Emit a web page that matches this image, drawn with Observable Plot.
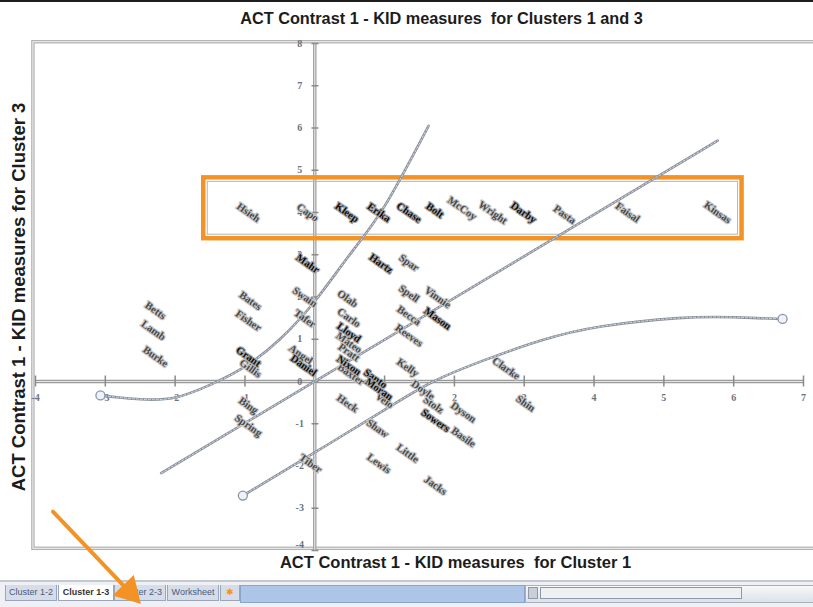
<!DOCTYPE html>
<html>
<head>
<meta charset="utf-8">
<script src="https://cdn.jsdelivr.net/npm/d3@7"></script>
<script src="https://cdn.jsdelivr.net/npm/@observablehq/plot@0.6"></script>
<style>
  body { margin: 0; background: #fff; }
  #wrap { position: relative; width: 813px; height: 607px; overflow: hidden; font-family: Arial, "Liberation Sans", sans-serif; background: #fff; }
  #topline { position: absolute; left: 0; top: 0; width: 813px; height: 2px; background: #1e1e1e; z-index: 3; }
  #tabs { position: absolute; left: 0; top: 580px; width: 813px; height: 27px; background: #eef0f4; border-top: 2px solid #c4c8d0; }
  #tabs .tab { position: absolute; top: 3px; height: 15px; line-height: 15px; font-size: 9px; color: #4a5a7a; text-align: center; background: #d7dde8; border: 1px solid #9aa6bb; border-top: none; }
  #tabs .tab.active { background: #fff; color: #333; font-weight: bold; }
  #tabs .blue { position: absolute; top: 3px; height: 16px; background: #adc6e8; border: 1px solid #8aa4cc; }
  #tabs .scroll { position: absolute; top: 3px; height: 16px; background: linear-gradient(#f7f8fa, #dde1e8); border: 1px solid #a9b0bd; }
  #tabs .thumb { position: absolute; top: 5px; height: 10px; background: #c9ced8; border: 1px solid #9098a6; }
  #chart { position: absolute; left: 0; top: 0; z-index: 2; }
</style>
</head>
<body>
<div id="wrap">
  <div id="topline"></div>
  <div id="tabs"></div>
  <div id="chart"></div>
</div>
<script>
// ---------- data ----------
const titleText = "ACT Contrast 1 - KID measures  for Clusters 1 and 3";
const xTitle = "ACT Contrast 1 - KID measures  for Cluster 1";
const yTitle = "ACT Contrast 1 - KID measures for Cluster 3";

const xTicks = [-4, -3, -2, -1, 1, 2, 3, 4, 5, 6, 7];
const yTicks = [-4, -3, -2, -1, 0, 1, 2, 3, 4, 5, 6, 7, 8];

const labelNames = ["Hsieh","Capo","Kleep","Erika","Chase","Bolt","McCoy","Wright","Darby","Pasta","Faisal","Kinsas",
  "Betts","Lamb","Burke","Bates","Fisher","Grant","Gillis","Bing","Spring",
  "Mahr","Swain","Tafer","Angel","Daniel","Hartz","Spar","Olab","Carlo","Lloyd","Mateo","Pratt","Nixon","Baxter",
  "Spell","Vinnie","Becca","Mason","Reeves","Kelly","Santo","Moran","Velo","Clarke",
  "Heck","Shaw","Little","Lewis","Jacks","Stolz","Dyson","Sowers","Basile","Shin","Tiber","Doyle"];
const labelX = [-0.95,-0.10,0.46,0.92,1.35,1.72,2.11,2.55,2.99,3.58,4.48,5.77,
  -2.28,-2.31,-2.28,-0.92,-0.95,-0.95,-0.92,-0.95,-0.95,
  -0.10,-0.14,-0.14,-0.20,-0.16,0.95,1.35,0.47,0.49,0.49,0.49,0.49,0.49,0.52,
  1.35,1.76,1.35,1.76,1.35,1.33,0.87,0.92,1.00,2.74,
  0.47,0.90,1.33,0.92,1.73,1.70,2.13,1.73,2.13,3.02,-0.06,1.55];
const labelY = [4.0,4.0,4.0,4.0,4.0,4.05,4.1,4.0,4.0,3.95,4.0,4.0,
  1.68,1.21,0.59,1.91,1.44,0.59,0.31,-0.57,-1.04,
  2.79,2.0,1.49,0.64,0.38,2.79,2.81,1.96,1.51,1.16,0.92,0.69,0.38,0.17,
  2.08,1.99,1.56,1.49,1.09,0.33,0.07,-0.18,-0.45,0.31,
  -0.52,-1.11,-1.70,-1.94,-2.46,-0.55,-0.73,-0.92,-1.32,-0.52,-1.94,-0.20];
const labelDark = [0,0,1,1,1,1,0,0,1,0,0,0,
  0,0,0,0,0,1,0,0,0,
  1,0,0,0,1,1,0,0,0,1,0,0,1,0,
  0,0,0,1,0,0,1,1,0,0,
  0,0,0,0,0,0,0,1,0,0,0,0];

// fitted curves
const steepX = [-3.07,-2.5,-2.0,-1.5,-1.0,-0.5,0,0.5,1.0,1.63];
const steepY = [-0.33,-0.42,-0.38,-0.08,0.35,1.0,1.9,3.0,4.15,6.05];
const linearX = [-2.2, 5.77];
const linearY = [-2.17, 5.70];
const lowerX = [-1.03,0,1.0,1.7,2.42,3.24,4.1,5.2,6.0,6.7];
const lowerY = [-2.70,-1.68,-0.67,0.0,0.5,0.97,1.3,1.5,1.52,1.48];

const sheetTabs = ["Cluster 1-2", "Cluster 1-3", "Cluster 2-3", "Worksheet", "\u2731"];
const activeTab = "Cluster 1-3";

// ---------- build tables ----------
const labels = labelNames.map((n, i) => ({name: n, x: labelX[i], y: labelY[i], dark: labelDark[i] === 1}));
const steep = steepX.map((x, i) => ({x, y: steepY[i]}));
const linear = linearX.map((x, i) => ({x, y: linearY[i]}));
const lower = lowerX.map((x, i) => ({x, y: lowerY[i]}));
const endMarkers = [steep[0], lower[0], lower[lower.length - 1]];

// annotation geometry (in data units)
const plotArea = {x1: -4.03, x2: 7.6, y1: -3.96, y2: 8.03};
const highlight = {x1: -1.59, x2: 6.12, y1: 3.38, y2: 4.82};
const arrowPts = [{x: -3.75, y: -3.08}, {x: -2.66, y: -4.97}];
const arrowTip = {x: -2.66, y: -4.97};

const curveStroke = "#8b9099";
const orange = "#f39325";
const titleFont = "Arial, Liberation Sans, sans-serif";
const tickStyle = {fontSize: 10, fontWeight: "bold", fill: "#6b7280", fontFamily: "Liberation Serif, serif"};

const chart = Plot.plot({
  width: 813,
  height: 607,
  marginLeft: 35,
  marginRight: 10,
  marginTop: 43,
  marginBottom: 57,
  x: {domain: [-4, 7], axis: null},
  y: {domain: [-4, 8], axis: null},
  style: {background: "transparent", overflow: "visible"},
  marks: [
    // plot area border (double grey)
    Plot.rect([plotArea], {x1: "x1", x2: "x2", y1: "y1", y2: "y2", fill: "none", stroke: "#b3b3b3", strokeWidth: 3.5}),
    Plot.rect([plotArea], {x1: "x1", x2: "x2", y1: "y1", y2: "y2", fill: "none", stroke: "#f2f2f2", strokeWidth: 1}),
    // axes crossing at origin
    Plot.ruleY([0], {x1: -4, x2: 7, stroke: "#9b9b9b", strokeWidth: 3.5}),
    Plot.ruleY([0], {x1: -4, x2: 7, stroke: "#e6e6e6", strokeWidth: 1}),
    Plot.ruleX([0], {y1: -4, y2: 8, stroke: "#a3a3a3", strokeWidth: 3.5}),
    Plot.ruleX([0], {y1: -4, y2: 8, stroke: "#ececec", strokeWidth: 1}),
    // tick marks
    Plot.ruleX(xTicks, {x: d => d, y1: -0.13, y2: 0.13, stroke: "#8a8a8a", strokeWidth: 1.5}),
    Plot.ruleY(yTicks, {y: d => d, x1: -0.04, x2: 0.06, stroke: "#8a8a8a", strokeWidth: 1.5}),
    // tick labels
    Plot.text(xTicks, {x: d => d, y: 0, dy: 16, text: d => String(d), ...tickStyle}),
    Plot.text(yTicks.filter(d => d > -4), {x: 0, y: d => d, dx: -15, text: d => String(d), ...tickStyle}),
    Plot.text(yTicks.filter(d => d === -4), {x: 0, y: d => d, dx: -15, dy: -6, text: d => String(d), ...tickStyle}),
    // highlight box
    Plot.rect([highlight], {x1: "x1", x2: "x2", y1: "y1", y2: "y2", fill: "none", stroke: orange, strokeWidth: 4.5}),
    Plot.rect([highlight], {x1: "x1", x2: "x2", y1: "y1", y2: "y2", inset: 4, fill: "none", stroke: "#b5b5b5", strokeWidth: 1}),
    // fitted curves
    Plot.line(steep, {x: "x", y: "y", curve: "natural", stroke: curveStroke, strokeWidth: 2.6}),
    Plot.line(steep, {x: "x", y: "y", curve: "natural", stroke: "#d3dae8", strokeWidth: 1, strokeDasharray: "2,2"}),
    Plot.line(linear, {x: "x", y: "y", stroke: curveStroke, strokeWidth: 2.6}),
    Plot.line(linear, {x: "x", y: "y", stroke: "#d3dae8", strokeWidth: 1, strokeDasharray: "2,2"}),
    Plot.line(lower, {x: "x", y: "y", curve: "natural", stroke: curveStroke, strokeWidth: 2.6}),
    Plot.line(lower, {x: "x", y: "y", curve: "natural", stroke: "#d3dae8", strokeWidth: 1, strokeDasharray: "2,2"}),
    Plot.dot(endMarkers, {x: "x", y: "y", r: 4.5, fill: "#eef2fa", stroke: "#8a93a6", strokeWidth: 1.3}),
    // rotated name labels
    Plot.text(labels.filter(d => !d.dark), {x: "x", y: "y", text: "name", rotate: 35, fontSize: 10.5, fontWeight: "bold",
      fontFamily: "Liberation Serif, serif", fill: "#4a4a4a", stroke: "#c9c9c9", strokeWidth: 2.4, paintOrder: "stroke"}),
    Plot.text(labels.filter(d => d.dark), {x: "x", y: "y", text: "name", rotate: 35, fontSize: 10.5, fontWeight: "bold",
      fontFamily: "Liberation Serif, serif", fill: "#0d0d0d", stroke: "#a9a9a9", strokeWidth: 2.4, paintOrder: "stroke"}),
    // titles
    Plot.text([titleText], {text: d => d, frameAnchor: "top", lineAnchor: "middle", dy: -25, dx: 22, fontSize: 16.3, fontWeight: "bold", fill: "#1c1c1c", fontFamily: titleFont}),
    Plot.text([xTitle], {text: d => d, frameAnchor: "bottom", lineAnchor: "middle", dy: 12, dx: 36, fontSize: 16.5, fontWeight: "bold", fill: "#1c1c1c", fontFamily: titleFont}),
    Plot.text([yTitle], {text: d => d, frameAnchor: "left", textAnchor: "middle", dx: -16, dy: 0, rotate: -90, fontSize: 18.5, fontWeight: "bold", fill: "#1c1c1c", fontFamily: titleFont}),
    // orange arrow
    Plot.line(arrowPts, {x: "x", y: "y", stroke: orange, strokeWidth: 4}),
    Plot.dot([arrowTip], {x: "x", y: "y", symbol: "triangle", r: 10, fill: orange, stroke: orange, rotate: 136})
  ]
});
document.getElementById("chart").appendChild(chart);

// ---------- sheet tab bar ----------
const tabs = d3.select("#tabs");
const tabLefts = [5, 58, 114, 167, 220];
const tabWidths = [50, 54, 50, 50, 18];
sheetTabs.forEach((t, i) => {
  tabs.append("div").attr("class", "tab" + (t === activeTab ? " active" : ""))
    .style("left", tabLefts[i] + "px").style("width", tabWidths[i] + "px")
    .style("color", i === 4 ? orange : null)
    .text(t);
});
tabs.append("div").attr("class", "blue").style("left", "240px").style("width", "283px");
tabs.append("div").attr("class", "scroll").style("left", "525px").style("width", "290px");
tabs.append("div").attr("class", "thumb").style("left", "528px").style("width", "8px");
tabs.append("div").attr("class", "thumb").style("left", "540px").style("width", "200px").style("background", "#eef0f4");
</script>
</body>
</html>
